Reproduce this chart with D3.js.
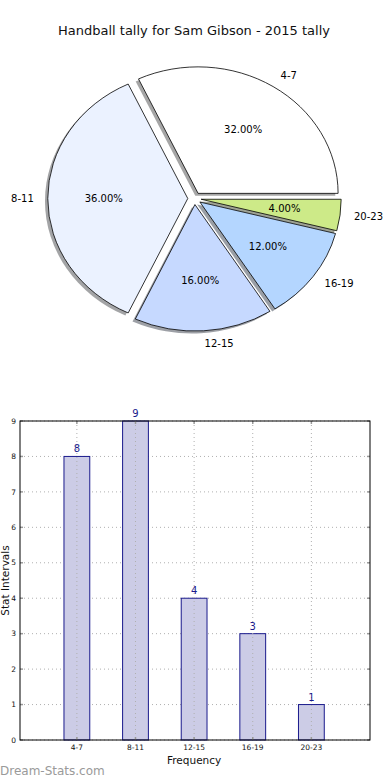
<!DOCTYPE html>
<html>
<head>
<meta charset="utf-8">
<script src="https://cdn.jsdelivr.net/npm/d3@7"></script>
<style>
  html, body { margin: 0; padding: 0; background: #fff; }
  svg { display: block; font-family: "DejaVu Sans", sans-serif; }
</style>
</head>
<body>
<svg id="chart" width="390" height="780"></svg>
<script>
// ---- data ----
const title = "Handball tally for Sam Gibson - 2015 tally";
const categories = ["4-7", "8-11", "12-15", "16-19", "20-23"];
const values = [8, 9, 4, 3, 1];
const pieColors = ["#ffffff", "#ebf2ff", "#c6d9ff", "#b4d6ff", "#cdea88"];
const yTicks = [0, 1, 2, 3, 4, 5, 6, 7, 8, 9];
const xLabel = "Frequency";
const yLabel = "Stat Intervals";
const watermark = "Dream-Stats.com";

(function () {
const svg = d3.select("#chart");

// ---- title ----
svg.append("text").attr("x", 194).attr("y", 35).attr("text-anchor", "middle")
  .attr("font-size", 13).attr("fill", "#111").text(title);

// ---- pie ----
const cx = 194.5, cy = 198.5, rx = 140, ry = 126.5, explode = 0.048;
const total = d3.sum(values);
const pie = d3.pie().sort(null).startAngle(Math.PI / 2).endAngle(Math.PI / 2 - 2 * Math.PI);
const arcs = pie(values);
const arc = d3.arc().innerRadius(0).outerRadius(ry);
const sx = rx / ry;
const pieG = svg.append("g");

function offset(d, k) {
  const a = (d.startAngle + d.endAngle) / 2;
  return [k * rx * Math.sin(a), -k * ry * Math.cos(a)];
}

// shadows
arcs.forEach((d, i) => {
  const [ox, oy] = offset(d, explode);
  const c = d3.rgb(pieColors[i]);
  const sc = d3.rgb(c.r * 0.3, c.g * 0.3, c.b * 0.3);
  pieG.append("path")
    .attr("d", arc(d))
    .attr("transform", `translate(${cx + ox - 2.8},${cy + oy + 2.5}) scale(${sx},1)`)
    .attr("fill", sc.toString()).attr("fill-opacity", 0.5);
});
// wedges
arcs.forEach((d, i) => {
  const [ox, oy] = offset(d, explode);
  pieG.append("path")
    .attr("d", arc(d))
    .attr("transform", `translate(${cx + ox},${cy + oy}) scale(${sx},1)`)
    .attr("fill", pieColors[i]).attr("stroke", "#000").attr("stroke-width", 0.8)
    .attr("vector-effect", "non-scaling-stroke").attr("stroke-linejoin", "round");
});
// labels
arcs.forEach((d, i) => {
  const a = (d.startAngle + d.endAngle) / 2;
  const lx = cx + (explode + 1.1) * rx * Math.sin(a);
  const ly = cy - (explode + 1.1) * ry * Math.cos(a);
  pieG.append("text").attr("x", lx).attr("y", ly).attr("dy", "0.35em")
    .attr("text-anchor", Math.sin(a) > 0 ? "start" : "end")
    .attr("font-size", 10).attr("fill", "#000").text(categories[i]);
  const px = cx + (explode + 0.6) * rx * Math.sin(a);
  const py = cy - (explode + 0.6) * ry * Math.cos(a);
  pieG.append("text").attr("x", px).attr("y", py).attr("dy", "0.35em")
    .attr("text-anchor", "middle").attr("font-size", 10).attr("fill", "#000")
    .text((values[i] / total * 100).toFixed(2) + "%");
});

// ---- bar chart ----
const pLeft = 20, pRight = 370, pTop = 421, pBottom = 740;
const x = d3.scaleLinear().domain([-0.97, 5]).range([pLeft, pRight]);
const y = d3.scaleLinear().domain([0, 9]).range([pBottom, pTop]);
const barW = 0.44;
const bg = svg.append("g");

// horizontal grid
bg.selectAll("line.hg").data(yTicks).join("line")
  .attr("x1", pLeft).attr("x2", pRight)
  .attr("y1", d => y(d)).attr("y2", d => y(d))
  .attr("stroke", "#b0b0b0").attr("stroke-width", 1).attr("stroke-dasharray", "1,3");

// bars
bg.selectAll("rect.bar").data(values).join("rect")
  .attr("x", (d, i) => x(i - barW / 2)).attr("width", x(barW) - x(0))
  .attr("y", d => y(d)).attr("height", d => y(0) - y(d))
  .attr("fill", "#ccccE6").attr("stroke", "#1a1a8c").attr("stroke-width", 1);

// vertical grid
bg.selectAll("line.vg").data(categories).join("line")
  .attr("x1", (d, i) => x(i)).attr("x2", (d, i) => x(i))
  .attr("y1", pTop).attr("y2", pBottom)
  .attr("stroke", "#b0b0b0").attr("stroke-width", 1).attr("stroke-dasharray", "1,3");

// value labels
bg.selectAll("text.val").data(values).join("text")
  .attr("x", (d, i) => x(i)).attr("y", d => y(d) - 4)
  .attr("text-anchor", "middle").attr("font-size", 10).attr("fill", "#1a1a8c")
  .text(d => d);

// tick marks (inside) left & right
yTicks.forEach(t => {
  bg.append("line").attr("x1", pLeft).attr("x2", pLeft + 3).attr("y1", y(t)).attr("y2", y(t))
    .attr("stroke", "#999").attr("stroke-width", 1.5);
  bg.append("line").attr("x1", pRight - 3).attr("x2", pRight).attr("y1", y(t)).attr("y2", y(t))
    .attr("stroke", "#999").attr("stroke-width", 1.5);
});
categories.forEach((c, i) => {
  bg.append("line").attr("x1", x(i)).attr("x2", x(i)).attr("y1", pBottom).attr("y2", pBottom - 3)
    .attr("stroke", "#999").attr("stroke-width", 1.5);
  bg.append("line").attr("x1", x(i)).attr("x2", x(i)).attr("y1", pTop).attr("y2", pTop + 3)
    .attr("stroke", "#999").attr("stroke-width", 1.5);
});

// frame
bg.append("rect").attr("x", pLeft).attr("y", pTop).attr("width", pRight - pLeft).attr("height", pBottom - pTop)
  .attr("fill", "none").attr("stroke", "#000").attr("stroke-width", 1);

// tick labels
bg.selectAll("text.yt").data(yTicks).join("text")
  .attr("x", pLeft - 4).attr("y", d => y(d)).attr("dy", "0.35em")
  .attr("text-anchor", "end").attr("font-size", 7.5).attr("fill", "#111").text(d => d);
bg.selectAll("text.xt").data(categories).join("text")
  .attr("x", (d, i) => x(i)).attr("y", pBottom + 10)
  .attr("text-anchor", "middle").attr("font-size", 7.5).attr("fill", "#111").text(d => d);

// axis labels
bg.append("text").attr("x", x(2)).attr("y", 764).attr("text-anchor", "middle")
  .attr("font-size", 10.5).attr("fill", "#111").text(xLabel);
bg.append("text").attr("transform", `translate(8.5,${(pTop + pBottom) / 2}) rotate(-90)`)
  .attr("text-anchor", "middle").attr("font-size", 10.5).attr("fill", "#111").text(yLabel);

// watermark
svg.append("text").attr("x", 0).attr("y", 775).attr("font-size", 12)
  .attr("fill", "#9a9a9a").text(watermark);
})();
</script>
</body>
</html>
